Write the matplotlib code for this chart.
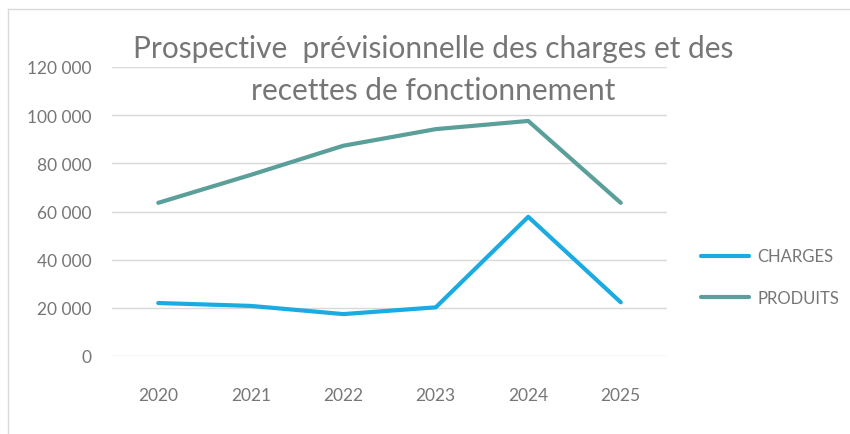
import matplotlib.pyplot as plt
from matplotlib.lines import Line2D
from matplotlib.ticker import FuncFormatter

plt.rcParams['font.family'] = ['Lato', 'DejaVu Sans']

years = ['2020', '2021', '2022', '2023', '2024', '2025']
charges = [22000, 20800, 17400, 20200, 57800, 22300]
produits = [63600, 75200, 87300, 94200, 97600, 63600]

txt = '#767676'

fig = plt.figure(figsize=(8.5, 4.35), dpi=100)
ax = fig.add_axes([112 / 850, 1 - 357 / 435, 555 / 850, 289 / 435])

x = range(len(years))
ax.plot(x, charges, color='#19ABE2', lw=3, solid_capstyle='round', label='CHARGES')
ax.plot(x, produits, color='#5A9F99', lw=3, solid_capstyle='round', label='PRODUITS')

ax.set_xlim(-0.5, len(years) - 0.5)
ax.set_ylim(0, 120000)
ax.set_yticks(range(0, 120001, 20000))
ax.yaxis.set_major_formatter(FuncFormatter(lambda v, p: f'{int(v):,}'.replace(',', ' ')))
ax.set_xticks(list(x))
ax.set_xticklabels(years)
ax.tick_params(length=0, colors=txt, labelsize=12.5)
ax.tick_params(axis='y', pad=15)
ax.tick_params(axis='x', pad=22)
ax.grid(axis='y', color='#D9D9D9', lw=1)
ax.set_axisbelow(True)
for s in ax.spines.values():
    s.set_visible(False)

# title sits over the plot area
fig.text(433 / 850, 1 - 49 / 435, 'Prospective  prévisionnelle des charges et des',
         ha='center', va='center', fontsize=21.5, color=txt)
fig.text(433 / 850, 1 - 91 / 435, 'recettes de fonctionnement',
         ha='center', va='center', fontsize=21.5, color=txt)

fig.legend(loc='center left', bbox_to_anchor=(686 / 850, 1 - 278 / 435), frameon=False,
           labelcolor=txt, fontsize=12, handlelength=2.9, handletextpad=0.5,
           labelspacing=1.5)

# chart border
fig.add_artist(Line2D([8 / 850, 8 / 850], [0, 1 - 10 / 435], color='#D9D9D9', lw=1))
fig.add_artist(Line2D([8 / 850, 1], [1 - 10 / 435, 1 - 10 / 435], color='#D9D9D9', lw=1))

fig.savefig('out.png', dpi=100)
